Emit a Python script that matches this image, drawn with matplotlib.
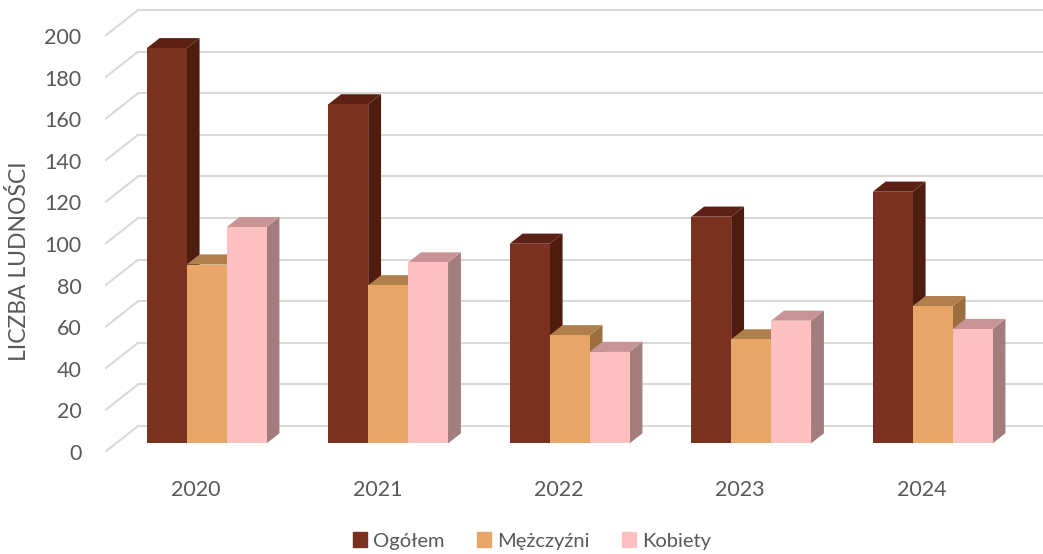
import numpy as np
import matplotlib
matplotlib.use("Agg")
import matplotlib.pyplot as plt
from matplotlib.patches import Polygon, Patch

plt.rcParams['font.family'] = ['Lato', 'DejaVu Sans']

# dane
lata = ['2020', '2021', '2022', '2023', '2024']
serie = ['Ogółem', 'Mężczyźni', 'Kobiety']
ogolem = [190, 163, 96, 109, 121]
mezczyzni = [86, 76, 52, 50, 66]
kobiety = [104, 87, 44, 59, 55]
wartosci = [ogolem, mezczyzni, kobiety]
yticks = list(range(0, 201, 20))

# kolory: przód, góra, bok
kol_front = ['#7A3120', '#E8A668', '#FFC0C2']
kol_top = ['#5C2015', '#B07F4C', '#C89496']
kol_side = ['#4F1D10', '#9C6E3E', '#A37C7C']
txt = '#595959'

# pseudo-3D: przesunięcie głębi
DX, DY = 0.182, 12.5       # pełna głębokość (x w kategoriach, y w jednostkach)
d0, dd = 0.33, 0.39        # początek i grubość słupka (ułamek głębokości)
w = 0.22

fig = plt.figure(figsize=(10.43, 5.54), dpi=100)
ax = fig.add_axes([105/1043, 102/554, 938/1043, 452/554])
ax.set_xlim(-0.5, -0.5 + 938/181.5)
ax.set_ylim(0, 452/2.08)
for s in ax.spines.values():
    s.set_visible(False)

# siatka (ściana tylna + ukośne odcinki)
for v in yticks:
    ax.plot([-0.5, -0.5 + DX], [v, v + DY], color='#D9D9D9', lw=1.5, zorder=0,
            solid_capstyle='butt')
    ax.plot([-0.5 + DX, 10], [v + DY, v + DY], color='#D9D9D9', lw=1.5, zorder=0)

x = np.arange(len(lata))
fx, fy = d0*DX, d0*DY
bx, by = dd*DX, dd*DY
z = 2
for i in x:
    for j in range(3):
        h = wartosci[j][i]
        left = i + (j - 1.5)*w + fx
        right = left + w
        # bok
        ax.add_patch(Polygon([(right, fy), (right + bx, fy + by),
                              (right + bx, fy + h + by), (right, fy + h)],
                             closed=True, fc=kol_side[j], ec='none', zorder=z))
        # góra
        ax.add_patch(Polygon([(left, fy + h), (right, fy + h),
                              (right + bx, fy + h + by), (left + bx, fy + h + by)],
                             closed=True, fc=kol_top[j], ec='none', zorder=z))
        # przód
        ax.bar(left, h, bottom=fy, width=w, align='edge', color=kol_front[j],
               zorder=z + 1)
        z += 2

ax.set_yticks(yticks)
ax.set_xticks(x)
ax.set_xticklabels(lata)
ax.tick_params(axis='both', length=0, labelsize=15.5, labelcolor=txt)
ax.tick_params(axis='y', pad=17)
ax.tick_params(axis='x', pad=20)

fig.text(19/1043, 1 - 261/554, 'LICZBA LUDNOŚCI', rotation=90, ha='center',
         va='center', fontsize=16.5, color=txt)

uchwyty = [Patch(color=c) for c in kol_front]
fig.legend(uchwyty, serie, loc='center', bbox_to_anchor=(532/1043, 1 - 541/554),
           ncol=3, frameon=False, fontsize=14.5, labelcolor=txt,
           handlelength=0.7, handleheight=0.7, handletextpad=0.3,
           columnspacing=1.6)

fig.savefig('out.png', dpi=100)
